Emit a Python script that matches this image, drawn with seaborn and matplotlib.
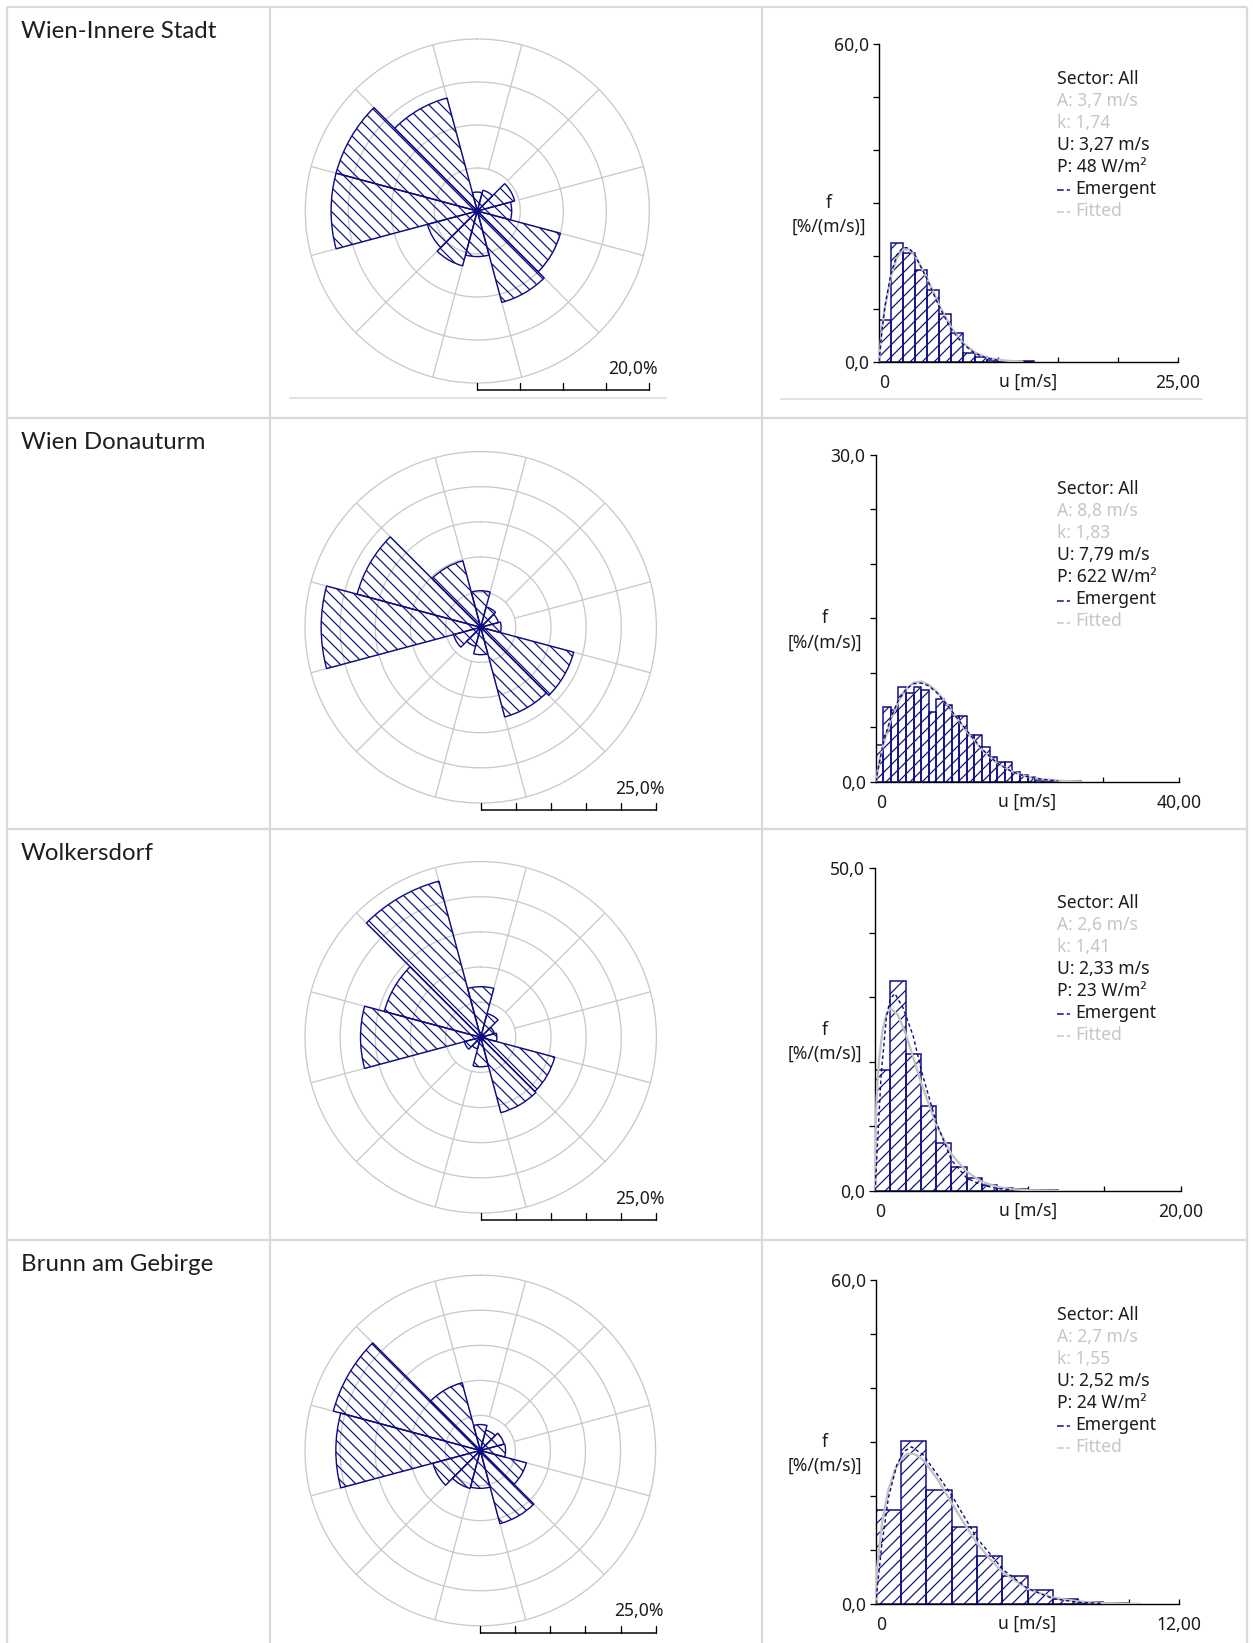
import numpy as np
import pandas as pd
import matplotlib
matplotlib.use("Agg")
import matplotlib.pyplot as plt
import seaborn as sns

# ---------------- data ----------------
stations = ["Wien-Innere Stadt", "Wien Donauturm", "Wolkersdorf", "Brunn am Gebirge"]

sector_deg = [0, 30, 60, 90, 120, 150, 180, 210, 240, 270, 300, 330]
rose_innere = [2.2, 2.5, 4.5, 4.0, 10.0, 11.0, 5.3, 6.6, 6.0, 17.0, 17.0, 13.6]
rose_donau = [5.2, 3.0, 2.6, 2.9, 13.7, 13.2, 3.9, 2.8, 4.0, 22.7, 18.2, 9.8]
rose_wolk = [7.2, 3.5, 2.0, 2.3, 10.9, 11.1, 4.2, 1.7, 2.4, 17.1, 14.2, 23.0]
rose_brunn = [3.7, 3.0, 3.5, 3.6, 6.8, 10.8, 5.4, 5.6, 7.0, 20.6, 21.7, 10.0]
rose_scale = [20, 25, 25, 25]
rose_scale_labels = ["20,0%", "25,0%", "25,0%", "25,0%"]

# histogram bars, 1 m/s bins starting at 0
hist_innere = [7.9, 22.5, 20.5, 17.3, 13.5, 9.1, 5.4, 1.6, 0.9, 0.4, 0.15, 0.1, 0.05]
hist_donau = [3.4, 6.9, 6.6, 8.7, 8.1, 8.7, 8.4, 6.4, 7.6, 7.0, 6.0, 6.0, 4.3, 4.3,
              3.2, 2.3, 1.8, 1.8, 0.9, 0.6, 0.4, 0.2, 0.15, 0.1, 0.05, 0.05, 0.05]
hist_wolk = [18.8, 32.5, 21.3, 13.2, 7.4, 3.7, 2.0, 0.9, 0.5, 0.25, 0.1, 0.15]
hist_brunn = [17.4, 30.1, 21.1, 14.2, 8.9, 5.1, 2.6, 0.9, 0.3, 0.1]

# fitted (grey) curves
fit_u_innere = [0, 0.25, 0.5, 1, 1.5, 2, 2.5, 3, 4, 5, 6, 7, 8, 9, 10, 11, 12]
fit_f_innere = [0, 6.3, 10.4, 16.1, 19.6, 21.2, 21.2, 20.1, 15.9, 10.9, 6.6, 3.6, 1.8, 0.8, 0.35, 0.13, 0.05]
fit_u_donau = [0, 0.5, 1, 2, 3, 4, 5, 6, 7, 8, 9, 10, 12, 14, 16, 18, 20, 22, 25, 27]
fit_f_donau = [0, 1.9, 3.4, 5.7, 7.4, 8.5, 9.1, 9.2, 8.9, 8.3, 7.5, 6.5, 4.6, 2.95, 1.7, 0.93, 0.46, 0.21, 0.06, 0.02]
fit_u_wolk = [0, 0.03, 0.1, 0.25, 0.5, 0.75, 1, 1.5, 2, 2.5, 3, 4, 5, 6, 7, 8, 9, 10, 12]
fit_f_wolk = [0, 8.7, 14.1, 20.0, 25.0, 27.4, 28.3, 27.3, 24.4, 20.7, 16.9, 10.3, 5.7, 3.0, 1.4, 0.65, 0.28, 0.12, 0.02]
fit_u_brunn = [0, 0.05, 0.25, 0.5, 0.75, 1, 1.25, 1.5, 1.75, 2, 2.5, 3, 3.5, 4, 4.5, 5, 6, 7, 8, 9, 10, 10.5]
fit_f_brunn = [0, 6.4, 15.1, 21.1, 24.7, 26.8, 27.8, 27.8, 27.2, 26.0, 22.7, 18.7, 14.9, 11.3, 8.4, 6.0, 2.8, 1.2, 0.48, 0.17, 0.05, 0.03]

# emergent (dark blue dashed) curves
em_u_innere = [0, 0.25, 0.5, 1, 1.5, 2, 2.5, 3, 4, 5, 6, 7, 8, 9, 10]
em_f_innere = [0, 6.0, 10.5, 16.6, 20.2, 21.6, 21.5, 20.2, 15.7, 10.6, 6.3, 3.4, 1.6, 0.7, 0.25]
em_u_donau = [0, 1, 2, 3, 4, 5, 6, 7, 8, 9, 10, 12, 14, 16, 18, 20, 22, 24]
em_f_donau = [0, 3.6, 5.9, 7.5, 8.5, 9.0, 9.05, 8.8, 8.2, 7.4, 6.5, 4.7, 3.0, 1.7, 0.9, 0.45, 0.2, 0.08]
em_u_wolk = [0, 0.1, 0.4, 0.75, 1.0, 1.3, 1.85, 2.5, 3.05, 4.0, 5.0, 6.0, 7.0, 8.0, 9.0]
em_f_wolk = [0, 4.3, 18.0, 27.0, 29.8, 30.6, 28.3, 24.0, 18.5, 10.7, 4.8, 2.0, 0.9, 0.4, 0.15]
em_u_brunn = [0, 0.04, 0.24, 0.5, 0.83, 1.1, 1.42, 1.88, 2.54, 3.07, 4.0, 5.05, 6.0, 7.0, 8.0, 9.0]
em_f_brunn = [0, 2.0, 10.9, 19.6, 25.7, 28.2, 29.1, 27.6, 23.3, 19.6, 12.2, 6.3, 2.9, 1.0, 0.3, 0.1]

x_max = [25, 40, 20, 12]
x_step = [5, 10, 5, 2]
y_max = [60, 30, 50, 60]
y_step = [10, 5, 10, 10]
x_max_labels = ["25,00", "40,00", "20,00", "12,00"]
y_max_labels = ["60,0", "30,0", "50,0", "60,0"]

weibull_A = ["3,7", "8,8", "2,6", "2,7"]
weibull_k = ["1,74", "1,83", "1,41", "1,55"]
mean_U = ["3,27", "7,79", "2,33", "2,52"]
power_P = ["48", "622", "23", "24"]

roses = [rose_innere, rose_donau, rose_wolk, rose_brunn]
hists = [hist_innere, hist_donau, hist_wolk, hist_brunn]
fits = [(fit_u_innere, fit_f_innere), (fit_u_donau, fit_f_donau),
        (fit_u_wolk, fit_f_wolk), (fit_u_brunn, fit_f_brunn)]
ems = [(em_u_innere, em_f_innere), (em_u_donau, em_f_donau),
       (em_u_wolk, em_f_wolk), (em_u_brunn, em_f_brunn)]

# ---------------- layout (pixels) ----------------
W, H = 1253, 1643
DPI = 72
row_top = [7, 418, 829, 1240]
col_x = [7, 270, 762, 1247]
rose_center = [(477.3, 211.0), (480.7, 627.3), (480.7, 1037.3), (480.3, 1450.5)]
rose_R = [172.0, 175.7, 175.7, 175.3]
hist_box = [(879.0, 44.3, 1177.7, 361.7), (875.7, 455.0, 1179.3, 781.7),
            (875.0, 868.3, 1180.7, 1191.0), (875.7, 1280.0, 1179.3, 1604.0)]

NAVY = "#0c0c80"
GRID = "#c9c9c9"
CURVE_GREY = "#c2c2c2"
TXT = "#1c1c1c"
TXT_GREY = "#c6c6c6"
BORDER = "#d9d9d9"

sns.set_theme(style="white")
plt.rcParams["font.family"] = ["Noto Sans", "DejaVu Sans"]
plt.rcParams["hatch.linewidth"] = 1.2
plt.rcParams["hatch.color"] = NAVY
plt.rcParams["axes.linewidth"] = 1.4

HFONT = ["Noto Sans", "DejaVu Sans"]
NFONT = ["Lato", "DejaVu Sans"]
FS = 17.5

fig = plt.figure(figsize=(W / DPI, H / DPI), dpi=DPI, facecolor="white")


def px_axes(x0, y0, x1, y1, **kw):
    return fig.add_axes([x0 / W, 1 - y1 / H, (x1 - x0) / W, (y1 - y0) / H], **kw)


for i in range(4):
    # ---------- wind rose ----------
    cx, cy = rose_center[i]
    R = rose_R[i]
    rmax = rose_scale[i]
    axp = px_axes(cx - R, cy - R, cx + R, cy + R, projection="polar")
    axp.set_theta_zero_location("N")
    axp.set_theta_direction(-1)
    axp.set_ylim(0, rmax)
    axp.grid(False)
    axp.set_xticks([])
    axp.set_yticks([])
    axp.set_facecolor("none")
    axp.spines["polar"].set_color(GRID)
    axp.spines["polar"].set_linewidth(1.3)
    ring_vals = np.arange(5, rmax, 5)
    tt = np.linspace(0, 2 * np.pi, 361)
    for rv in ring_vals:
        axp.plot(tt, np.full_like(tt, rv), color=GRID, lw=1.3, zorder=1)
    for k in range(12):
        a = np.deg2rad(15 + 30 * k)
        axp.plot([a, a], [5, rmax], color=GRID, lw=1.3, zorder=1)
    theta = np.deg2rad(sector_deg)
    axp.bar(theta, roses[i], width=2 * np.pi / len(sector_deg), bottom=0,
            facecolor="none", edgecolor=NAVY, hatch="\\\\", linewidth=1.4,
            align="center", zorder=3)
    axp.plot([0], [0], "o", color=NAVY, ms=5.5, zorder=4)

    # ---------- histogram ----------
    x0, y0, x1, y1 = hist_box[i]
    axh = px_axes(x0, y0, x1, y1)
    axh.set_facecolor("none")
    vals = hists[i]
    dfh = pd.DataFrame({"u": np.arange(len(vals)) + 0.5, "f": vals})
    edges = list(range(len(vals) + 1))
    sns.histplot(data=dfh, x="u", weights="f", bins=edges, ax=axh, stat="count",
                 element="bars", fill=True, facecolor="none", edgecolor=NAVY,
                 linewidth=1.5, hatch="//", zorder=2)
    dff = pd.DataFrame({"u": fits[i][0], "f": fits[i][1]})
    sns.lineplot(data=dff, x="u", y="f", ax=axh, color=CURVE_GREY,
                 linewidth=2.3, zorder=3)
    dfe = pd.DataFrame({"u": ems[i][0], "f": ems[i][1]})
    sns.lineplot(data=dfe, x="u", y="f", ax=axh, color=NAVY,
                 linewidth=1.4, linestyle=(0, (2.5, 2.0)), zorder=4)
    axh.set_xlim(0, x_max[i])
    axh.set_ylim(0, y_max[i])
    axh.set_xlabel("")
    axh.set_ylabel("")
    for s in ["top", "right"]:
        axh.spines[s].set_visible(False)
    for s in ["left", "bottom"]:
        axh.spines[s].set_color("black")
        axh.spines[s].set_linewidth(1.4)
    xt = np.arange(0, x_max[i] + 0.01, x_step[i])
    yt = np.arange(0, y_max[i] + 0.01, y_step[i])
    axh.set_xticks(xt, ["0"] + [""] * (len(xt) - 2) + [x_max_labels[i]])
    axh.set_yticks(yt, ["0,0"] + [""] * (len(yt) - 2) + [y_max_labels[i]])
    axh.tick_params(axis="x", direction="in", length=5, width=1.3, pad=12,
                    colors="black", labelsize=FS, labelcolor=TXT, bottom=True)
    axh.tick_params(axis="y", direction="out", length=6, width=1.3, pad=4,
                    colors="black", labelsize=FS, labelcolor=TXT, left=True)
    xl = axh.get_xticklabels()
    xl[0].set_ha("left")
    for t in xl + axh.get_yticklabels():
        t.set_family(HFONT)

# ---------------- overlay: table, names, legends, scale bars ----------------
ov = fig.add_axes([0, 0, 1, 1])
ov.set_xlim(0, W)
ov.set_ylim(H, 0)
ov.axis("off")
ov.patch.set_alpha(0)
ov.set_zorder(10)

for y in row_top:
    ov.plot([col_x[0], col_x[-1]], [y, y], color=BORDER, lw=2.2, solid_capstyle="butt")
for x in col_x:
    ov.plot([x, x], [row_top[0], H], color=BORDER, lw=2.2, solid_capstyle="butt")
# thin grey image baselines in the first row
ov.plot([290, 666], [398, 398], color="#e2e2e2", lw=2)
ov.plot([781, 1202], [399, 399], color="#e2e2e2", lw=2)

for i in range(4):
    ov.text(21, row_top[i] + 31, stations[i], fontsize=24, family=NFONT,
            fontweight="normal", color="#1e1e1e", va="baseline", ha="left")

    # scale bar
    cx, cy = rose_center[i]
    R = rose_R[i]
    rmax = rose_scale[i]
    by = cy + R + 7
    ov.plot([cx, cx + R], [by, by], color="black", lw=1.5, solid_capstyle="butt")
    for v in range(0, rmax + 1, 5):
        xv = cx + R * v / rmax
        ov.plot([xv, xv], [by, by - 7], color="black", lw=1.3)
    ov.text(cx + R + 8, by - 21.5, rose_scale_labels[i], fontsize=FS, family=HFONT,
            color=TXT, ha="right", va="center")

    # histogram annotations
    x0, y0, x1, y1 = hist_box[i]
    ymid = (y0 + y1) / 2
    ov.text(x0 - 50.5, ymid, "f", fontsize=FS, family=HFONT, color=TXT,
            ha="center", va="center")
    ov.text(x0 - 50.5, ymid + 24, "[%/(m/s)]", fontsize=FS, family=HFONT, color=TXT,
            ha="center", va="center")
    ov.text((x0 + x1) / 2, y1 + 20, "u [m/s]", fontsize=FS, family=HFONT, color=TXT,
            ha="center", va="center")

    lx = 1057
    ly = y0 + 34.5
    step = 22.0
    legend_lines = [
        ("Sector: All", TXT),
        (f"A: {weibull_A[i]} m/s", TXT_GREY),
        (f"k: {weibull_k[i]}", TXT_GREY),
        (f"U: {mean_U[i]} m/s", TXT),
        (f"P: {power_P[i]} W/m²", TXT),
    ]
    for j, (s, c) in enumerate(legend_lines):
        ov.text(lx, ly + j * step, s, fontsize=FS, family=HFONT, color=c,
                ha="left", va="center")
    ov.plot([lx, lx + 13], [ly + 5 * step + 1] * 2, color=NAVY, lw=1.5,
            linestyle=(0, (4.5, 2.0)))
    ov.text(lx + 18, ly + 5 * step, "Emergent", fontsize=FS, family=HFONT, color=TXT,
            ha="left", va="center")
    ov.plot([lx, lx + 13], [ly + 6 * step + 1] * 2, color=TXT_GREY, lw=1.5,
            linestyle=(0, (4.5, 2.0)))
    ov.text(lx + 18, ly + 6 * step, "Fitted", fontsize=FS, family=HFONT, color=TXT_GREY,
            ha="left", va="center")

fig.savefig("out.png", dpi=DPI, facecolor="white")
